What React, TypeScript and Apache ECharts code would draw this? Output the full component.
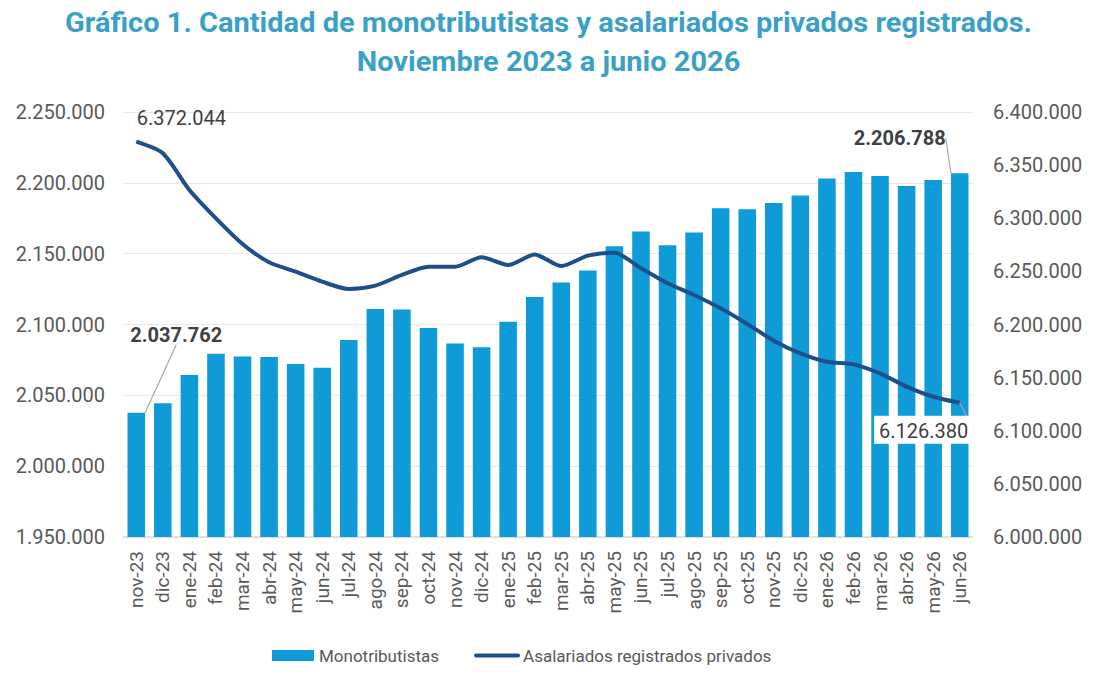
import React, { useEffect, useRef } from "react";
import * as echarts from "echarts";

const categories = [
  "nov-23", "dic-23", "ene-24", "feb-24", "mar-24", "abr-24", "may-24", "jun-24",
  "jul-24", "ago-24", "sep-24", "oct-24", "nov-24", "dic-24", "ene-25", "feb-25",
  "mar-25", "abr-25", "may-25", "jun-25", "jul-25", "ago-25", "sep-25", "oct-25",
  "nov-25", "dic-25", "ene-26", "feb-26", "mar-26", "abr-26", "may-26", "jun-26",
];

const monotributistas = [
  2037762, 2044500, 2064300, 2079300, 2077400, 2077000, 2072200, 2069400,
  2089000, 2111000, 2110600, 2097600, 2086600, 2084000, 2101900, 2119500,
  2129700, 2138200, 2155200, 2165600, 2155900, 2164900, 2182100, 2181400,
  2185700, 2191100, 2203000, 2207700, 2204900, 2197800, 2202000, 2206788,
];

const asalariados = [
  6372044, 6361100, 6326600, 6299900, 6275800, 6258500, 6249700, 6240300,
  6233400, 6236600, 6246600, 6254400, 6254400, 6263200, 6256000, 6266000,
  6255000, 6264800, 6267600, 6252900, 6238800, 6227800, 6215200, 6200500,
  6184800, 6172900, 6165000, 6162500, 6154000, 6141500, 6132000, 6126380,
];

const leftTicks = { min: 1950000, max: 2250000, interval: 50000 };
const rightTicks = { min: 6000000, max: 6400000, interval: 50000 };

const titleLine1 = "Gráfico 1. Cantidad de monotributistas y asalariados privados registrados.";
const titleLine2 = "Noviembre 2023 a junio 2026";

const fmt = (v: number) =>
  String(Math.round(v)).replace(/\B(?=(\d{3})+(?!\d))/g, ".");

const FONT = "Roboto, 'Noto Sans', sans-serif";
const TITLE_COLOR = "#3aa1c6";
const BAR_COLOR = "#0e9bd8";
const LINE_COLOR = "#1f4f8b";
const TEXT_COLOR = "#595959";
const LABEL_COLOR = "#404040";

function measure(text: string, font: string) {
  const c = document.createElement("canvas");
  const ctx = c.getContext("2d");
  if (!ctx) return 0;
  ctx.font = font;
  return ctx.measureText(text).width;
}

export default function App() {
  const ref = useRef<HTMLDivElement>(null);

  useEffect(() => {
    if (!ref.current) return;
    const chart = echarts.init(ref.current, undefined, { renderer: "svg" });
    const w1 = measure(titleLine1, "bold 28px Roboto");
    const s1 = w1 > 0 ? 967 / w1 : 1;

    const lastIdx = categories.length - 1;

    const barData = monotributistas.map((v, i) => {
      if (i === 0 || i === lastIdx) {
        return {
          value: v,
          label: {
            show: true,
            position: "top",
            formatter: (p: any) => fmt(p.value),
            fontWeight: "bold",
            fontSize: 20,
            color: LABEL_COLOR,
            fontFamily: FONT,
          },
          labelLine: { show: true, lineStyle: { color: "#a6a6a6", width: 1.2 } },
        };
      }
      return v;
    });

    const lineData = asalariados.map((v, i) => {
      if (i === 0) {
        return {
          value: v,
          label: {
            show: true,
            position: "top",
            formatter: (p: any) => fmt(p.value),
            fontSize: 20,
            color: LABEL_COLOR,
            fontFamily: FONT,
          },
        };
      }
      if (i === lastIdx) {
        return {
          value: v,
          label: {
            show: true,
            position: "top",
            formatter: (p: any) => fmt(p.value),
            fontSize: 20,
            color: LABEL_COLOR,
            fontFamily: FONT,
            backgroundColor: "#ffffff",
            padding: [5, 5, 3, 5],
          },
          labelLine: { show: true, lineStyle: { color: "#a6a6a6", width: 1.2 } },
        };
      }
      return v;
    });

    chart.setOption({
      animation: false,
      backgroundColor: "#ffffff",
      textStyle: { fontFamily: FONT },
      graphic: [
        {
          type: "text",
          x: 548.5,
          y: 23,
          scaleX: s1,
          style: {
            text: titleLine1,
            font: "bold 28px Roboto",
            fill: TITLE_COLOR,
            align: "center",
            verticalAlign: "middle",
          },
        },
        {
          type: "text",
          x: 548.5,
          y: 62,
          scaleX: s1,
          style: {
            text: titleLine2,
            font: "bold 28px Roboto",
            fill: TITLE_COLOR,
            align: "center",
            verticalAlign: "middle",
          },
        },
      ],
      grid: { left: 123, right: 126, top: 112, bottom: 142 },
      legend: {
        bottom: 10,
        left: 267,
        itemWidth: 42,
        itemHeight: 11,
        itemGap: 35,
        textStyle: { fontSize: 17, color: TEXT_COLOR, fontFamily: FONT },
        data: [
          { name: "Monotributistas", icon: "rect" },
          {
            name: "Asalariados registrados privados",
            itemStyle: { color: "rgba(0,0,0,0)", borderWidth: 0 },
            lineStyle: { color: LINE_COLOR, width: 4, cap: "round" },
          },
        ],
      },
      xAxis: {
        type: "category",
        data: categories,
        axisTick: { show: false },
        axisLine: { lineStyle: { color: "#d9d9d9", width: 1.5 } },
        axisLabel: {
          rotate: 90,
          interval: 0,
          fontSize: 19,
          color: TEXT_COLOR,
          margin: 14,
          fontFamily: FONT,
        },
      },
      yAxis: [
        {
          type: "value",
          min: leftTicks.min,
          max: leftTicks.max,
          interval: leftTicks.interval,
          axisLine: { show: false },
          axisTick: { show: false },
          splitLine: { lineStyle: { color: "#e6e6e6", width: 1.2 } },
          axisLabel: {
            fontSize: 20,
            color: TEXT_COLOR,
            margin: 18,
            formatter: (v: number) => fmt(v),
            fontFamily: FONT,
          },
        },
        {
          type: "value",
          min: rightTicks.min,
          max: rightTicks.max,
          interval: rightTicks.interval,
          axisLine: { show: false },
          axisTick: { show: false },
          splitLine: { show: false },
          axisLabel: {
            fontSize: 20,
            color: TEXT_COLOR,
            margin: 20,
            formatter: (v: number) => fmt(v),
            fontFamily: FONT,
          },
        },
      ],
      series: [
        {
          name: "Monotributistas",
          type: "bar",
          yAxisIndex: 0,
          data: barData,
          barWidth: "66%",
          itemStyle: { color: BAR_COLOR },
          labelLayout: (p: any) => {
            if (p.dataIndex === 0) return { dx: 40, dy: -63 };
            if (p.dataIndex === lastIdx) return { dx: -60, dy: -20 };
            return {};
          },
        },
        {
          name: "Asalariados registrados privados",
          type: "line",
          yAxisIndex: 1,
          data: lineData,
          smooth: 0.25,
          symbol: "circle",
          symbolSize: 0.1,
          showSymbol: true,
          showAllSymbol: true,
          lineStyle: { color: LINE_COLOR, width: 4 },
          itemStyle: { color: LINE_COLOR },
          labelLayout: (p: any) => {
            if (p.dataIndex === 0) return { dx: 45, dy: -9 };
            if (p.dataIndex === lastIdx) return { dx: -36, dy: 46 };
            return {};
          },
        },
      ],
    });

    return () => chart.dispose();
  }, []);

  return (
    <div
      ref={ref}
      style={{ position: "fixed", left: 0, top: 0, width: 1099, height: 679 }}
    />
  );
}
